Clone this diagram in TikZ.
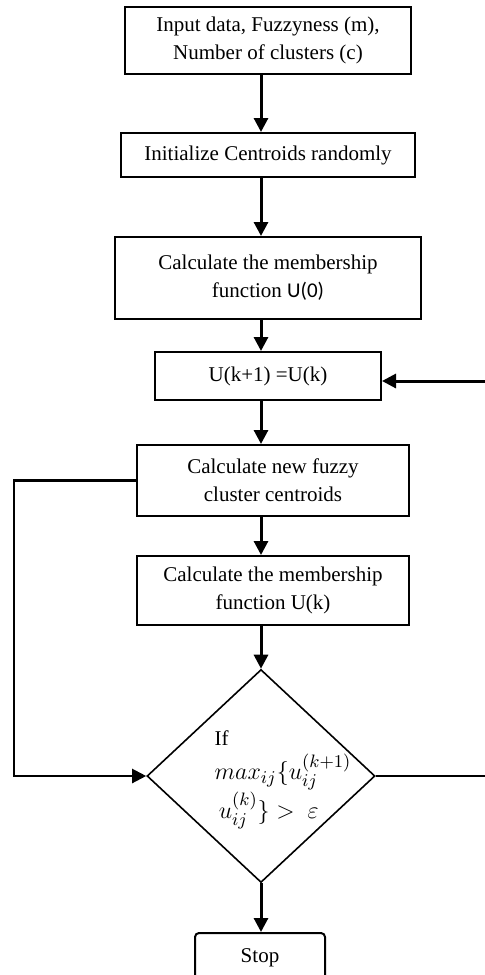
\documentclass[tikz,border=0pt]{standalone}
\usepackage{fontspec}
\setmainfont{Liberation Serif}
\newfontfamily\calfont{Carlito}
\usetikzlibrary{shapes.geometric,arrows.meta}
\begin{document}
\begin{tikzpicture}[x=0.5pt,y=-0.5pt,
    font=\fontsize{10.5}{14}\selectfont,
    box/.style={draw, line width=1pt, align=center, inner sep=0pt},
    arr/.style={line width=1.5pt, -{Triangle[length=7pt,width=7pt]}}]
    \useasboundingbox (0,0) rectangle (485,975);

    % Steps of the algorithm
    \node[box, minimum width=143pt, minimum height=33.5pt] (inp) at (268,40.5) {Input data, Fuzzyness (m),\\Number of clusters (c)};
    \node[box, minimum width=147pt, minimum height=22pt] (init) at (268,155) {Initialize Centroids randomly};
    \node[box, minimum width=153pt, minimum height=41pt] (memb0) at (268,278) {Calculate the membership\\function {\calfont U(0)}};
    \node[box, minimum width=113pt, minimum height=24pt] (upd) at (268,376) {U(k+1) =U(k)};
    \node[box, minimum width=136pt, minimum height=35.5pt] (newc) at (273,480.5) {Calculate new fuzzy\\cluster centroids};
    \node[box, minimum width=136pt, minimum height=34.5pt] (membk) at (273,590.5) {Calculate the membership\\function U(k)};

    % Stopping test
    \node[draw, diamond, line width=0.8pt, inner sep=0pt, minimum width=114pt, minimum height=106.5pt] (dec) at (261,776) {};
    \node[align=left, font=\fontsize{12.5}{17}\selectfont] (cond) at (283,780) {{\fontsize{10.5}{12}\selectfont If}\\$max_{ij}\{u_{ij}^{(k+1)}$\\\,$u_{ij}^{(k)}\} >\ \varepsilon$};
    \node[box, rounded corners=2pt, minimum width=65pt, minimum height=25pt] (stop) at (260,958) {Stop};

    % Main flow
    \draw[arr] (inp.south -| dec.north) -- (init.north -| dec.north);
    \draw[arr] (init.south -| dec.north) -- (memb0.north -| dec.north);
    \draw[arr] (memb0.south -| dec.north) -- (upd.north -| dec.north);
    \draw[arr] (upd.south -| dec.north) -- (newc.north -| dec.north);
    \draw[arr] (newc.south -| dec.north) -- (membk.north -| dec.north);
    \draw[arr] (membk.south -| dec.north) -- (dec.north);
    \draw[arr] (dec.south) -- (stop.north -| dec.south);

    % Loops back
    \coordinate (lft) at (14,776);
    \coordinate (rgt) at (487,776);
    \draw[line width=1.1pt, -{Triangle[length=7pt,width=7pt]}] (newc.west) -| (lft) -- (dec.west);
    \draw[line width=0.75pt] (dec.east) -- (rgt) -- (rgt |- upd.east);
    \draw[arr] ([yshift=-2.5pt]upd.east -| rgt) -- ([yshift=-2.5pt]upd.east);
\end{tikzpicture}
\end{document}
